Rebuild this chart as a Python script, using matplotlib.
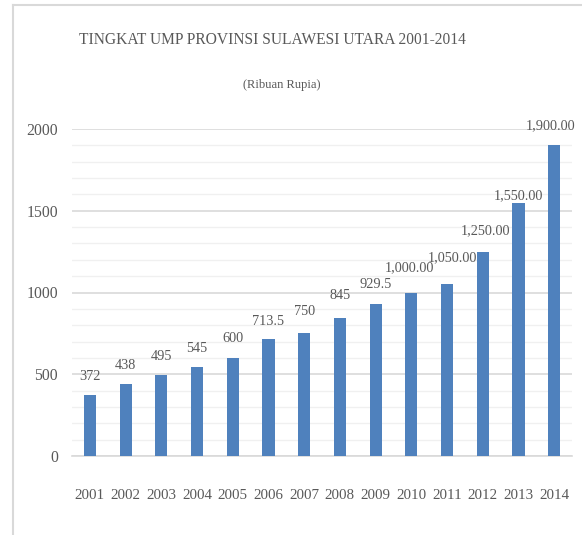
import matplotlib
matplotlib.use("Agg")
import matplotlib.pyplot as plt
from matplotlib.lines import Line2D
from matplotlib.ticker import MultipleLocator

# data
years = ["2001", "2002", "2003", "2004", "2005", "2006", "2007",
         "2008", "2009", "2010", "2011", "2012", "2013", "2014"]
ump = [372, 438, 495, 545, 600, 713.5, 750, 845, 929.5, 1000, 1050, 1250, 1550, 1900]
labels = ["372", "438", "495", "545", "600", "713.5", "750", "845", "929.5",
          "1,000.00", "1,050.00", "1,250.00", "1,550.00", "1,900.00"]

# label nudges (pixels) - some labels were moved by hand in the original
dy = [19, 19, 19, 18, 19, 18, 22, 22, 20, 25, 27, 21, 7, 20]
dx = [0, 0, 0, 0, 0, 0, 0, 0, 0, -2, 5, 3, 0, -4]

txt = "#595959"
blue = "#4F81BD"
plt.rcParams['font.family'] = ['Liberation Serif', 'DejaVu Serif']

fig = plt.figure(figsize=(5.82, 5.35), dpi=100)
W, H = 582.0, 535.0
ax = fig.add_axes([72 / W, 1 - 456 / H, 500 / W, 327 / H])

x = range(len(years))
ax.bar(x, ump, width=0.34, color=blue, zorder=3)

for i, (v, lab) in enumerate(zip(ump, labels)):
    ax.annotate(lab, (i, v), xytext=(dx[i], dy[i]), textcoords="offset pixels",
                ha="center", va="center", fontsize=10.3, color=txt)

ax.set_xlim(-0.5, len(years) - 0.5)
ax.set_ylim(0, 2000)
ax.yaxis.set_major_locator(MultipleLocator(500))
ax.yaxis.set_minor_locator(MultipleLocator(100))
ax.grid(which="major", axis="y", color="#D9D9D9", lw=1.2, zorder=0)
ax.grid(which="minor", axis="y", color="#F0F0F0", lw=1.0, zorder=0)
ax.set_xticks(list(x))
ax.set_xticklabels(years)
ax.tick_params(axis="x", length=0, pad=24, labelsize=10.8, labelcolor=txt)
ax.tick_params(axis="y", which="both", length=0, pad=10, labelsize=11.3, labelcolor=txt)
for s in ["top", "right", "left"]:
    ax.spines[s].set_visible(False)
ax.spines["bottom"].set_color("#D9D9D9")
ax.spines["bottom"].set_linewidth(1.2)
ax.set_axisbelow(True)

fig.text(272 / W, 1 - 40 / H, "TINGKAT UMP PROVINSI SULAWESI UTARA 2001-2014",
         ha="center", va="center", fontsize=11.2, color=txt)
fig.text(282 / W, 1 - 85 / H, "(Ribuan Rupia)",
         ha="center", va="center", fontsize=9, color=txt)

# chart frame (only left and top edges are visible in the crop)
fx, fy = 12.5 / W, 1 - 4.5 / H
fig.add_artist(Line2D([fx, fx], [0, fy], transform=fig.transFigure, color="#D9D9D9", lw=1.5))
fig.add_artist(Line2D([fx, 1], [fy, fy], transform=fig.transFigure, color="#D9D9D9", lw=1.5))

fig.savefig("out.png", dpi=100)
